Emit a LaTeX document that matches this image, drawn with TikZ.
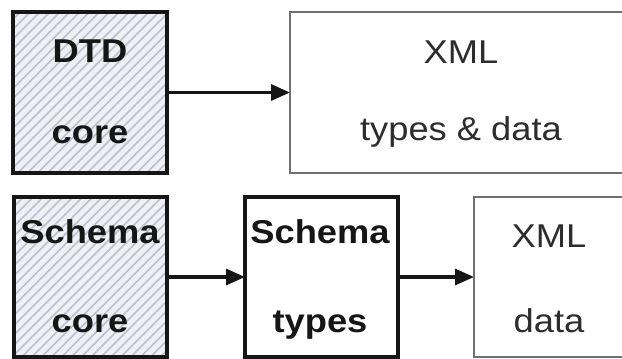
\documentclass[tikz,border=0pt]{standalone}
\usepackage{fontspec}
\setmainfont{Liberation Sans}
\newfontfamily\labelfont[FakeStretch=1.1]{Liberation Sans}
\usetikzlibrary{arrows.meta,patterns.meta}
\definecolor{hatchbg}{RGB}{238,240,246}
\definecolor{hatchline}{RGB}{188,192,206}
\definecolor{inkblack}{RGB}{22,22,22}
\definecolor{thinedge}{RGB}{112,112,112}
\tikzset{
  corebox/.style={draw=inkblack, line width=3.2pt, inner sep=0pt, outer sep=0pt,
    preaction={fill=hatchbg},
    pattern={Lines[angle=45,distance=7pt,line width=1.6pt]}, pattern color=hatchline},
  typebox/.style={draw=inkblack, line width=3.2pt, fill=white, inner sep=0pt, outer sep=0pt},
  xmlbox/.style={draw=thinedge, line width=1.8pt, fill=white, inner sep=0pt, outer sep=0pt},
  boldlbl/.style={inner sep=0pt, anchor=base, text=inkblack,
    font=\labelfont\fontsize{33}{33}\selectfont\bfseries},
  plainlbl/.style={inner sep=0pt, anchor=base, text=inkblack!90,
    font=\labelfont\fontsize{33}{33}\selectfont},
  arr/.style={line width=3.2pt, draw=inkblack,
    -{Triangle[length=19pt,width=16pt,fill=inkblack]}}
}
\begin{document}
\begin{tikzpicture}[x=1pt,y=-1pt]
  \path[clip] (0,0) rectangle (622,359);
  \fill[white] (0,0) rectangle (622,359);

  % upper row: DTD core feeding XML types & data
  \node[corebox, minimum width=154pt, minimum height=161pt] (dtd) at (90,92.5) {};
  \node[xmlbox, minimum width=342pt, minimum height=161pt] (xmltd) at (461,92.5) {};
  \node[boldlbl] (dtdA) at (90,62) {DTD};
  \node[boldlbl] (dtdB) at (90,143) {core};
  \node[plainlbl] (xmltdA) at (461,63) {XML};
  \node[plainlbl] (xmltdB) at (461,140) {types \& data};
  \draw[arr] (dtd.east) -- (xmltd.west);

  % lower row: Schema core, Schema types, XML data
  \node[corebox, minimum width=153pt, minimum height=160pt] (score) at (90.5,277) {};
  \node[typebox, minimum width=153pt, minimum height=160pt] (stypes) at (321.5,277) {};
  \node[xmlbox, minimum width=150pt, minimum height=160pt] (xmld) at (549,277) {};
  \node[boldlbl] (scoreA) at (90,243) {Schema};
  \node[boldlbl] (scoreB) at (90,332) {core};
  \node[boldlbl] (stypesA) at (320,243) {Schema};
  \node[boldlbl] (stypesB) at (320,332) {types};
  \node[plainlbl] (xmldA) at (549,247) {XML};
  \node[plainlbl] (xmldB) at (549,332) {data};
  \draw[arr] (score.east) -- (stypes.west);
  \draw[arr] (stypes.east) -- (xmld.west);
\end{tikzpicture}
\end{document}
